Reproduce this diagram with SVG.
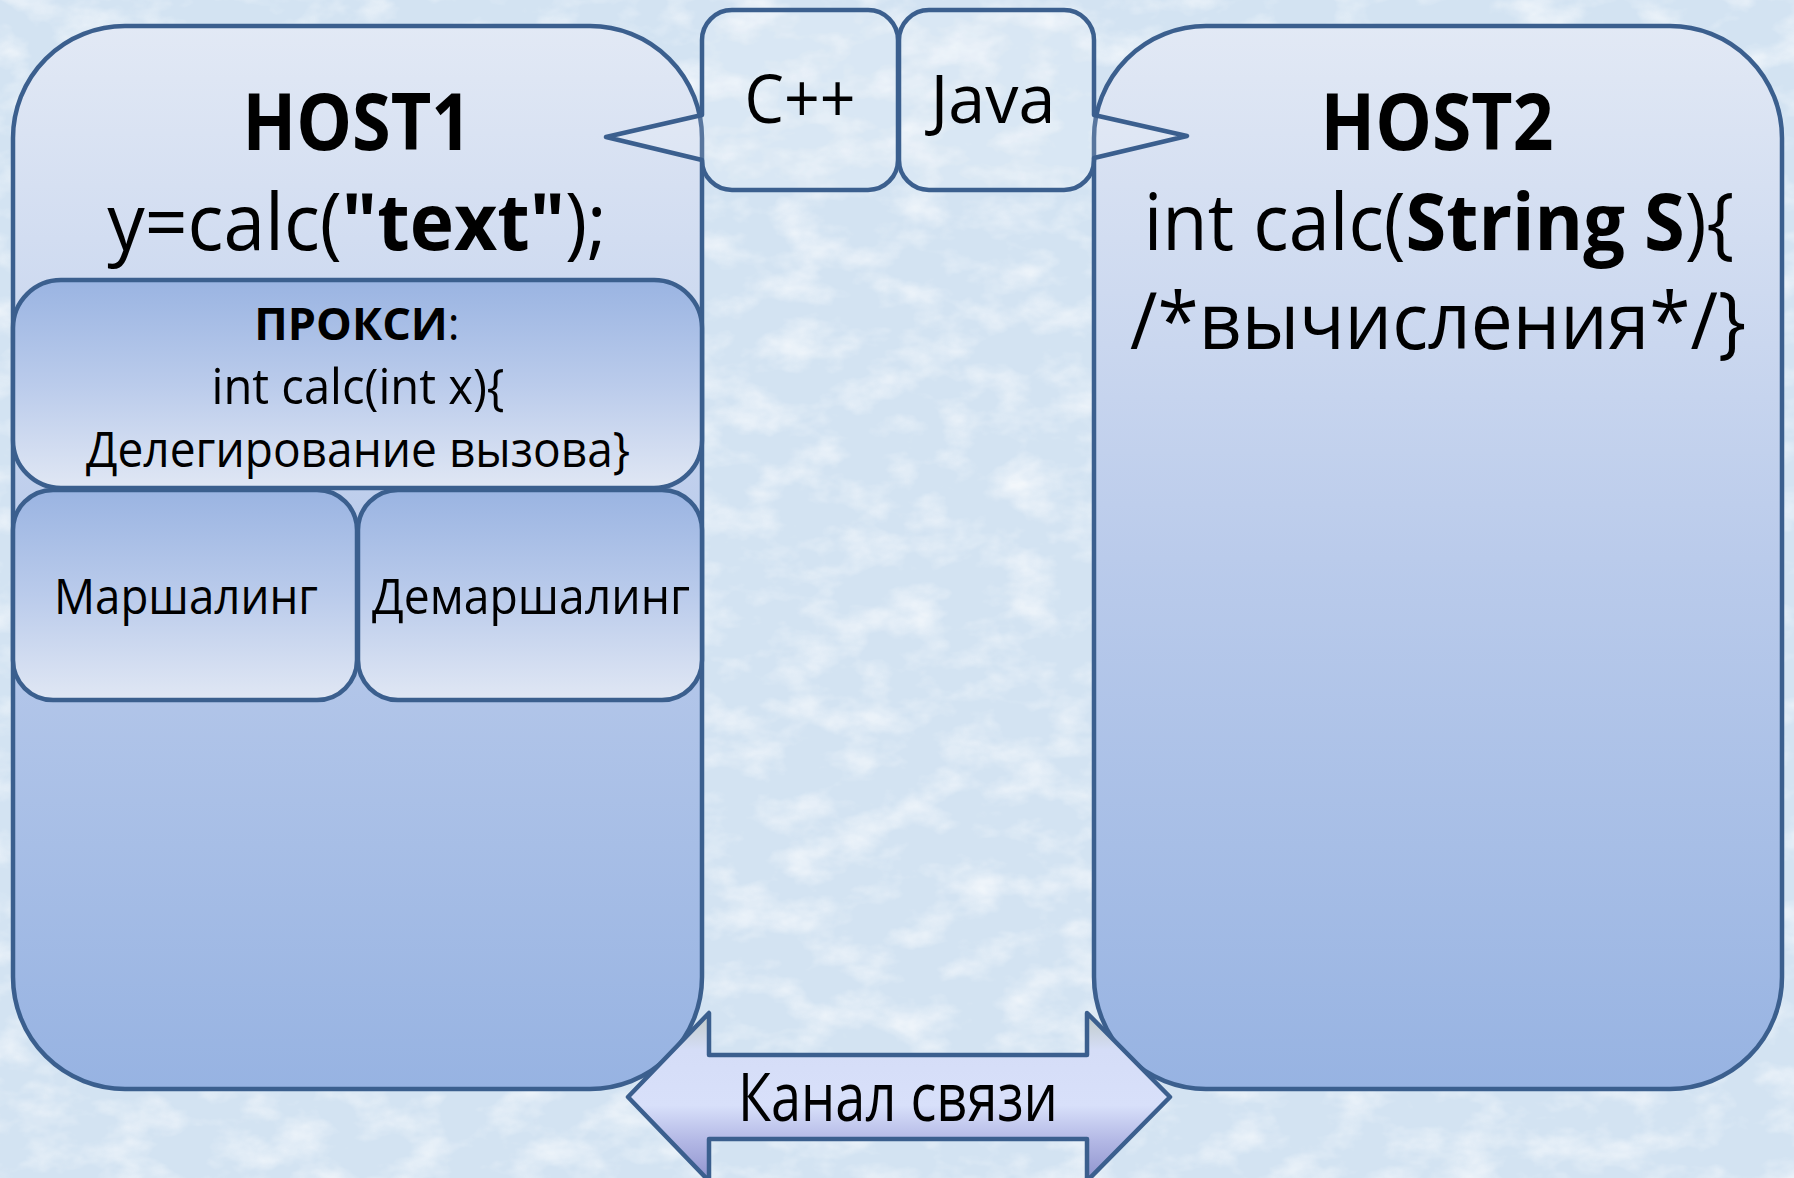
<svg xmlns="http://www.w3.org/2000/svg" width="1794" height="1178" viewBox="0 0 1794 1178">
<defs>
<style>
.st{stroke:#3B5F8E;stroke-width:4.5;stroke-linejoin:round}
.t{font-family:"Open Sans","Noto Sans","DejaVu Sans",sans-serif;fill:#000;text-anchor:middle}
.b{font-weight:bold}
.big{font-size:78px}
.mid{font-size:68px}
.sm{font-size:50px}
</style>
<linearGradient id="gHost" x1="0" y1="0" x2="0" y2="1">
<stop offset="0" stop-color="#E2E9F5"/>
<stop offset="0.5" stop-color="#BACBEB"/>
<stop offset="1" stop-color="#97B3E2"/>
</linearGradient>
<linearGradient id="gInner" x1="0" y1="0" x2="0" y2="1">
<stop offset="0" stop-color="#9AB4E2"/>
<stop offset="0.5" stop-color="#BACBEB"/>
<stop offset="1" stop-color="#E0E7F4"/>
</linearGradient>
<linearGradient id="gArrow" gradientUnits="userSpaceOnUse" x1="0" y1="1013" x2="0" y2="1181">
<stop offset="0" stop-color="#BFCAC6"/>
<stop offset="0.22" stop-color="#D5DDF7"/>
<stop offset="0.55" stop-color="#D8E0FA"/>
<stop offset="0.76" stop-color="#B3B8E5"/>
<stop offset="1" stop-color="#8E92CD"/>
</linearGradient>
<filter id="tex" x="0" y="0" width="100%" height="100%">
<feTurbulence type="fractalNoise" baseFrequency="0.018 0.03" numOctaves="4" seed="7"/>
<feColorMatrix type="matrix" values="0 0 0 0 1 0 0 0 0 1 0 0 0 0 1 0 0 0 1.8 -0.8"/>
</filter>
</defs>

<g id="background">
<rect x="0" y="0" width="1794" height="1178" fill="#D3E3F2"/>
<rect x="0" y="0" width="1794" height="1178" filter="url(#tex)" opacity="0.8"/>
</g>

<g id="host1">
<rect class="st" x="13" y="26" width="689" height="1063" rx="112" fill="url(#gHost)"/>
<text class="t big b" x="357" y="150" textLength="229" lengthAdjust="spacingAndGlyphs">HOST1</text>
<text class="t big" x="0" y="0" transform="translate(357,250) scale(0.96,1)">y=calc(<tspan class="b">"text"</tspan>);</text>
</g>

<g id="host2">
<rect class="st" x="1094" y="26" width="688" height="1063" rx="112" fill="url(#gHost)"/>
<text class="t big b" x="1437" y="150" textLength="233" lengthAdjust="spacingAndGlyphs">HOST2</text>
<text class="t big" x="0" y="0" transform="translate(1439,250) scale(0.948,1)">int calc(<tspan class="b">String S</tspan>){</text>
<text class="t big" x="1438" y="349" textLength="616" lengthAdjust="spacingAndGlyphs">/*вычисления*/}</text>
</g>

<g id="cpp">
<path class="st" fill="#FFFFFF" fill-opacity="0.15" d="M732,10 H868 A30,30 0 0 1 898,40 V160 A30,30 0 0 1 868,190 H732 A30,30 0 0 1 702,160 L606,137 L702,115 V40 A30,30 0 0 1 732,10 Z"/>
<text class="t mid" x="800" y="123" textLength="111" lengthAdjust="spacingAndGlyphs">C++</text>
</g>

<g id="java">
<path class="st" fill="#FFFFFF" fill-opacity="0.15" d="M929,10 H1064 A30,30 0 0 1 1094,40 V115 L1187,136 L1094,158 V160 A30,30 0 0 1 1064,190 H929 A30,30 0 0 1 899,160 V40 A30,30 0 0 1 929,10 Z"/>
<text class="t mid" x="993" y="123" textLength="125" lengthAdjust="spacingAndGlyphs">Java</text>
</g>

<g id="proxy">
<rect class="st" x="13" y="280" width="689" height="208" rx="48" fill="url(#gInner)"/>
<text class="t" x="357" y="340" font-size="45"><tspan class="b">ПРОКСИ</tspan>:</text>
<text class="t sm" x="358" y="404" textLength="293" lengthAdjust="spacingAndGlyphs">int calc(int x){</text>
<text class="t sm" x="358" y="467" textLength="544" lengthAdjust="spacingAndGlyphs">Делегирование вызова}</text>
</g>

<g id="marshaling">
<rect class="st" x="13" y="490" width="344" height="210" rx="40" fill="url(#gInner)"/>
<text class="t sm" x="186" y="614" textLength="264" lengthAdjust="spacingAndGlyphs">Маршалинг</text>
</g>

<g id="demarshaling">
<rect class="st" x="358" y="490" width="344" height="210" rx="40" fill="url(#gInner)"/>
<text class="t sm" x="531" y="614" textLength="318" lengthAdjust="spacingAndGlyphs">Демаршалинг</text>
</g>

<g id="connectors">
<g id="channel">
<polygon class="st" fill="url(#gArrow)" points="628,1097 709,1013 709,1055 1087,1055 1087,1013 1170,1097 1087,1181 1087,1139 709,1139 709,1181"/>
<text class="t mid" x="898" y="1121" textLength="320" lengthAdjust="spacingAndGlyphs">Канал связи</text>
</g>
</g>
</svg>
